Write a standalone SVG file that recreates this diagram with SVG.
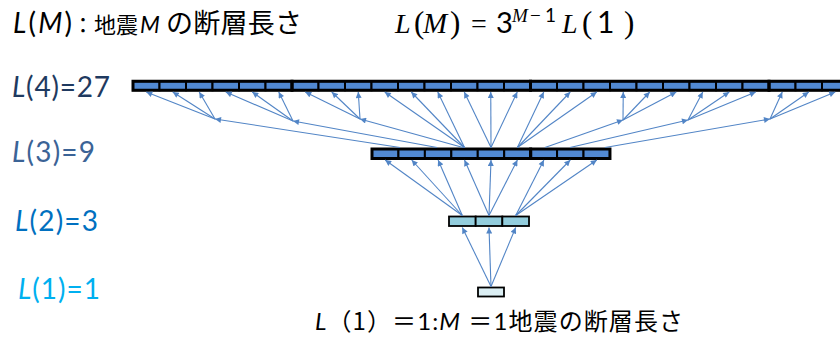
<svg xmlns="http://www.w3.org/2000/svg" width="840" height="340" viewBox="0 0 840 340">
<defs>
<marker id="ah" viewBox="0 0 10 10" refX="10" refY="5" markerWidth="7" markerHeight="6" markerUnits="userSpaceOnUse" orient="auto">
<path d="M0,0 L10,5 L0,10 z" fill="#5285C6"/>
</marker>
<style>
.b4{fill:#5189D2;stroke:#000;stroke-width:2}
.b2{fill:#93CDDD;stroke:#000;stroke-width:1.8}
.b1{fill:#DBEEF3;stroke:#000;stroke-width:1.8}
.grp{fill:none;stroke:#000;stroke-width:3}
.arr{stroke:#5285C6;stroke-width:1.1;fill:none;marker-end:url(#ah)}
.lbl{font-family:Lato,"Liberation Sans",sans-serif;font-size:28px}
.it{font-style:italic}
.math{font-family:"Liberation Serif",serif;font-size:28px;fill:#000}
.ms{font-family:Lato,"Liberation Sans",sans-serif}
.pr{font-size:31px}
</style>
</defs>
<rect width="840" height="340" fill="#fff"/>

<g id="title">
<text x="13" y="33" class="lbl" font-size="30" textLength="59"><tspan class="it">L</tspan>(<tspan class="it">M</tspan>)</text>
<text x="72" y="33" font-family="'Noto Sans CJK JP',sans-serif" font-size="22">：地震</text>
<text x="140" y="33" font-family="Lato,'Liberation Sans',sans-serif" font-size="23" font-style="italic">M</text>
<text x="166" y="33" font-family="'Noto Sans CJK JP',sans-serif" font-size="27" textLength="136">の断層長さ</text>
</g>

<g id="formula">
<text y="33" class="math"><tspan x="395" font-style="italic">L</tspan><tspan x="414" class="pr">(</tspan><tspan x="423" font-style="italic" font-size="29">M</tspan><tspan x="450" class="pr">)</tspan><tspan x="471">=</tspan><tspan x="496" class="ms" font-size="29">3</tspan><tspan x="512" y="22" font-size="19" font-style="italic">M</tspan><tspan x="530" y="22" font-size="19">−</tspan><tspan x="545" y="22" font-size="19" class="ms">1</tspan><tspan x="562" y="33" font-style="italic">L</tspan><tspan x="582" class="pr">(</tspan><tspan x="597" class="ms" font-size="30">1</tspan><tspan x="624" class="pr">)</tspan></text>
</g>

<g id="labels">
<text id="lab4" x="12" y="97" class="lbl" fill="#1F3A60" textLength="98"><tspan class="it">L</tspan>(4)=27</text>
<text id="lab3" x="12" y="162" class="lbl" fill="#3B6396" textLength="83"><tspan class="it">L</tspan>(3)=9</text>
<text id="lab2" x="15" y="231" class="lbl" fill="#0070C0" textLength="83"><tspan class="it">L</tspan>(2)=3</text>
<text id="lab1" x="18" y="299" class="lbl" fill="#00B0F0" textLength="82"><tspan class="it">L</tspan>(1)=1</text>
</g>

<g id="row4">
<rect class="b4" x="133" y="81.25" width="26.5" height="9"/>
<rect class="b4" x="159.5" y="81.25" width="26.5" height="9"/>
<rect class="b4" x="186" y="81.25" width="26.5" height="9"/>
<rect class="b4" x="212.5" y="81.25" width="26.5" height="9"/>
<rect class="b4" x="239" y="81.25" width="26.5" height="9"/>
<rect class="b4" x="265.5" y="81.25" width="26.5" height="9"/>
<rect class="b4" x="292" y="81.25" width="26.5" height="9"/>
<rect class="b4" x="318.5" y="81.25" width="26.5" height="9"/>
<rect class="b4" x="345" y="81.25" width="26.5" height="9"/>
<rect class="b4" x="371.5" y="81.25" width="26.5" height="9"/>
<rect class="b4" x="398" y="81.25" width="26.5" height="9"/>
<rect class="b4" x="424.5" y="81.25" width="26.5" height="9"/>
<rect class="b4" x="451" y="81.25" width="26.5" height="9"/>
<rect class="b4" x="477.5" y="81.25" width="26.5" height="9"/>
<rect class="b4" x="504" y="81.25" width="26.5" height="9"/>
<rect class="b4" x="530.5" y="81.25" width="26.5" height="9"/>
<rect class="b4" x="557" y="81.25" width="26.5" height="9"/>
<rect class="b4" x="583.5" y="81.25" width="26.5" height="9"/>
<rect class="b4" x="610" y="81.25" width="26.5" height="9"/>
<rect class="b4" x="636.5" y="81.25" width="26.5" height="9"/>
<rect class="b4" x="663" y="81.25" width="26.5" height="9"/>
<rect class="b4" x="689.5" y="81.25" width="26.5" height="9"/>
<rect class="b4" x="716" y="81.25" width="26.5" height="9"/>
<rect class="b4" x="742.5" y="81.25" width="26.5" height="9"/>
<rect class="b4" x="769" y="81.25" width="26.5" height="9"/>
<rect class="b4" x="795.5" y="81.25" width="26.5" height="9"/>
<rect class="b4" x="822" y="81.25" width="26.5" height="9"/>
<rect class="grp" x="133" y="81.25" width="159" height="9"/>
<rect class="grp" x="292" y="81.25" width="238.5" height="9"/>
<rect class="grp" x="530.5" y="81.25" width="238.5" height="9"/>
<rect class="grp" x="769" y="81.25" width="79.5" height="9"/>
</g>

<g id="row3">
<rect class="b4" x="372" y="149" width="26.44" height="9.5"/>
<rect class="b4" x="398.44" y="149" width="26.44" height="9.5"/>
<rect class="b4" x="424.88" y="149" width="26.44" height="9.5"/>
<rect class="b4" x="451.32" y="149" width="26.44" height="9.5"/>
<rect class="b4" x="477.76" y="149" width="26.44" height="9.5"/>
<rect class="b4" x="504.2" y="149" width="26.44" height="9.5"/>
<rect class="b4" x="530.64" y="149" width="26.44" height="9.5"/>
<rect class="b4" x="557.08" y="149" width="26.44" height="9.5"/>
<rect class="b4" x="583.52" y="149" width="26.44" height="9.5"/>
<rect class="grp" x="372" y="149" width="158.64" height="9.5"/>
<rect class="grp" x="530.64" y="149" width="79.32" height="9.5"/>
</g>

<g id="row2">
<rect class="b2" x="449" y="216.5" width="26.67" height="9.5"/>
<rect class="b2" x="475.67" y="216.5" width="26.67" height="9.5"/>
<rect class="b2" x="502.34" y="216.5" width="26.67" height="9.5"/>
</g>

<g id="row1">
<rect class="b1" x="478" y="287.5" width="26" height="9"/>
</g>

<g id="connectors">
<line class="arr" x1="491" y1="286.5" x2="462.3" y2="227.5"/>
<line class="arr" x1="491" y1="286.5" x2="489" y2="227.5"/>
<line class="arr" x1="491" y1="286.5" x2="515.7" y2="227.5"/>

<line class="arr" x1="462.3" y1="215.5" x2="385.2" y2="160"/>
<line class="arr" x1="462.3" y1="215.5" x2="411.7" y2="160"/>
<line class="arr" x1="462.3" y1="215.5" x2="438.1" y2="160"/>
<line class="arr" x1="489" y1="215.5" x2="464.5" y2="160"/>
<line class="arr" x1="489" y1="215.5" x2="491" y2="160"/>
<line class="arr" x1="489" y1="215.5" x2="517.4" y2="160"/>
<line class="arr" x1="515.7" y1="215.5" x2="543.9" y2="160"/>
<line class="arr" x1="515.7" y1="215.5" x2="570.3" y2="160"/>
<line class="arr" x1="515.7" y1="215.5" x2="596.8" y2="160"/>

<line class="arr" x1="464.5" y1="147.5" x2="384.75" y2="92"/>
<line class="arr" x1="464.5" y1="147.5" x2="411.25" y2="92"/>
<line class="arr" x1="464.5" y1="147.5" x2="437.75" y2="92"/>
<line class="arr" x1="491" y1="147.5" x2="464.25" y2="92"/>
<line class="arr" x1="491" y1="147.5" x2="490.75" y2="92"/>
<line class="arr" x1="491" y1="147.5" x2="517.25" y2="92"/>
<line class="arr" x1="517.4" y1="147.5" x2="543.75" y2="92"/>
<line class="arr" x1="517.4" y1="147.5" x2="570.25" y2="92"/>
<line class="arr" x1="517.4" y1="147.5" x2="596.75" y2="92"/>

<line class="arr" x1="400" y1="147.5" x2="215" y2="119"/>
<line class="arr" x1="437" y1="147.5" x2="293" y2="121"/>
<line class="arr" x1="463" y1="147.5" x2="360" y2="119"/>
<line class="arr" x1="545" y1="147.5" x2="623" y2="120"/>
<line class="arr" x1="570" y1="147.5" x2="688" y2="120"/>
<line class="arr" x1="605" y1="147.5" x2="770" y2="119"/>

<line class="arr" x1="215" y1="119" x2="146.25" y2="92"/>
<line class="arr" x1="215" y1="119" x2="172.75" y2="92"/>
<line class="arr" x1="215" y1="119" x2="199.25" y2="92"/>
<line class="arr" x1="293" y1="121" x2="225.75" y2="92"/>
<line class="arr" x1="293" y1="121" x2="252.25" y2="92"/>
<line class="arr" x1="293" y1="121" x2="278.75" y2="92"/>
<line class="arr" x1="360" y1="119" x2="305.25" y2="92"/>
<line class="arr" x1="360" y1="119" x2="331.75" y2="92"/>
<line class="arr" x1="360" y1="119" x2="358.25" y2="92"/>
<line class="arr" x1="623" y1="120" x2="623.25" y2="92"/>
<line class="arr" x1="623" y1="120" x2="649.75" y2="92"/>
<line class="arr" x1="623" y1="120" x2="676.25" y2="92"/>
<line class="arr" x1="688" y1="120" x2="702.75" y2="92"/>
<line class="arr" x1="688" y1="120" x2="729.25" y2="92"/>
<line class="arr" x1="688" y1="120" x2="755.75" y2="92"/>
<line class="arr" x1="770" y1="119" x2="782.25" y2="92"/>
<line class="arr" x1="770" y1="119" x2="808.75" y2="92"/>
<line class="arr" x1="770" y1="119" x2="835.25" y2="92"/>
</g>

<g id="caption">
<text x="315" y="330" font-family="Lato,'Noto Sans CJK JP',sans-serif" font-size="24" textLength="368"><tspan font-style="italic">L</tspan><tspan font-family="'Noto Sans CJK JP',sans-serif">（1）＝</tspan>1:<tspan font-style="italic">M</tspan> <tspan font-family="'Noto Sans CJK JP',sans-serif">＝</tspan>1<tspan font-family="'Noto Sans CJK JP',sans-serif">地震の断層長さ</tspan></text>
</g>
</svg>
